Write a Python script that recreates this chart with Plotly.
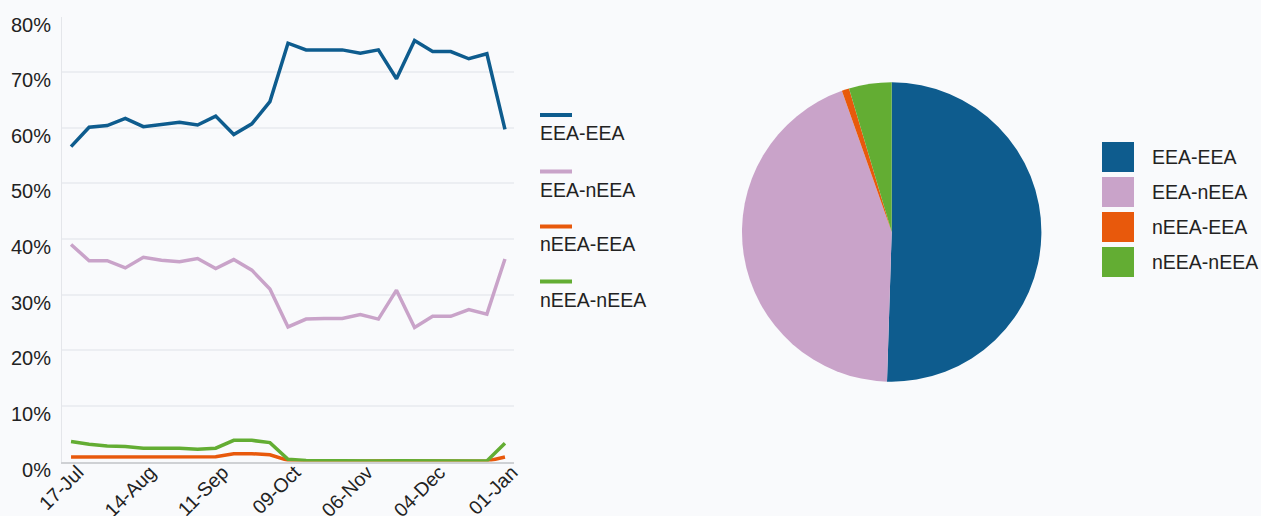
import plotly.graph_objects as go

# ---------------- data ----------------
weeks = ["2017-07-17", "2017-07-24", "2017-07-31", "2017-08-07", "2017-08-14",
         "2017-08-21", "2017-08-28", "2017-09-04", "2017-09-11", "2017-09-18",
         "2017-09-25", "2017-10-02", "2017-10-09", "2017-10-16", "2017-10-23",
         "2017-10-30", "2017-11-06", "2017-11-13", "2017-11-20", "2017-11-27",
         "2017-12-04", "2017-12-11", "2017-12-18", "2017-12-25", "2018-01-01"]

eea_eea = [56.6, 60.1, 60.4, 61.7, 60.2, 60.6, 61.0, 60.5, 62.1, 58.8,
           60.7, 64.7, 75.2, 74.0, 74.0, 74.0, 73.4, 74.0, 68.8, 75.7,
           73.7, 73.7, 72.4, 73.3, 59.7]
eea_neea = [39.0, 36.1, 36.1, 34.8, 36.7, 36.2, 35.9, 36.5, 34.7, 36.3,
            34.4, 31.0, 24.2, 25.6, 25.7, 25.7, 26.4, 25.6, 30.8, 24.1,
            26.1, 26.1, 27.3, 26.5, 36.4]
neea_eea = [0.8, 0.8, 0.85, 0.8, 0.75, 0.8, 0.8, 0.8, 0.85, 1.4,
            1.4, 1.2, 0.2, 0.1, 0.05, 0.05, 0.05, 0.1, 0.1, 0.05,
            0.05, 0.05, 0.05, 0.05, 0.8]
neea_neea = [3.6, 3.1, 2.8, 2.7, 2.4, 2.4, 2.4, 2.2, 2.4, 3.8,
             3.8, 3.4, 0.4, 0.2, 0.15, 0.1, 0.1, 0.1, 0.15, 0.1,
             0.1, 0.1, 0.1, 0.1, 3.3]

series_names = ["EEA-EEA", "EEA-nEEA", "nEEA-EEA", "nEEA-nEEA"]
series_values = [eea_eea, eea_neea, neea_eea, neea_neea]
colors = ["#0e5c8e", "#c9a3c9", "#e8590c", "#63ad33"]

pie_values = [50.5, 44.1, 0.8, 4.6]

tick_dates = ["2017-07-17", "2017-08-14", "2017-09-11", "2017-10-09",
              "2017-11-06", "2017-12-04", "2018-01-01"]
tick_labels = ["17-Jul", "14-Aug", "11-Sep", "09-Oct", "06-Nov", "04-Dec", "01-Jan"]
y_ticks = [0, 10, 20, 30, 40, 50, 60, 70, 80]
y_tick_labels = ["0%", "10%", "20%", "30%", "40%", "50%", "60%", "70%", "80%"]

# ---------------- figure ----------------
W, H = 1261, 516
BG = "#f9fafc"
TXT = "#222222"
FONT = "Liberation Sans, Arial, sans-serif"

fig = go.Figure()
for name, vals, col in zip(series_names, series_values, colors):
    fig.add_trace(go.Scatter(x=weeks, y=vals, name=name, mode="lines",
                             line=dict(color=col, width=3.5), showlegend=False,
                             hovertemplate="%{y:.1f}%<extra>" + name + "</extra>"))

fig.add_trace(go.Pie(labels=series_names, values=pie_values, sort=False,
                     direction="clockwise", rotation=0,
                     marker=dict(colors=colors, line=dict(width=0)),
                     textinfo="none", showlegend=False,
                     domain=dict(x=[741.7 / W, 1041.7 / W],
                                 y=[1 - 381.7 / H, 1 - 82.3 / H])))

fig.update_layout(
    width=W, height=H,
    margin=dict(l=0, r=0, t=0, b=0),
    paper_bgcolor=BG, plot_bgcolor=BG,
    font=dict(family=FONT, color=TXT, size=20),
    xaxis=dict(domain=[62 / W, 514 / W], type="date",
               range=["2017-07-13 12:00", "2018-01-04 12:00"],
               tickvals=tick_dates, ticktext=tick_labels, tickangle=-45,
               showgrid=False, showline=True, linecolor="#cfd1d4", linewidth=1.5,
               ticks="", zeroline=False, automargin=False,
               ticklabelshift=7, ticklabelstandoff=-10,
               tickfont=dict(size=19.5, color=TXT)),
    yaxis=dict(domain=[1 - 461.5 / H, 1 - 16.5 / H], range=[0, 80],
               tickvals=y_ticks, ticktext=y_tick_labels, showgrid=True,
               gridcolor="#eceef2", gridwidth=2, showline=True,
               linecolor="#e4e6ea", linewidth=1, ticks="", zeroline=False,
               automargin=False, ticklabelstandoff=6, ticklabelshift=8,
               tickfont=dict(size=20, color=TXT)),
)

# legend for the line chart (line sample above label)
line_y = [115, 171.5, 226.5, 281.5]
for name, col, ly in zip(series_names, colors, line_y):
    fig.add_shape(type="line", xref="paper", yref="paper",
                  x0=540 / W, x1=572 / W, y0=1 - ly / H, y1=1 - ly / H,
                  line=dict(color=col, width=4))
    fig.add_annotation(xref="paper", yref="paper", x=538 / W, y=1 - (ly + 18) / H,
                       text=name, showarrow=False, xanchor="left", yanchor="middle",
                       font=dict(size=19.5, color=TXT, family=FONT))

# legend for the pie chart (square swatch + label)
sq_y = [157, 192, 227, 262]
for name, col, sy in zip(series_names, colors, sq_y):
    fig.add_shape(type="rect", xref="paper", yref="paper",
                  x0=1102 / W, x1=1134 / W, y0=1 - (sy - 15) / H, y1=1 - (sy + 15) / H,
                  fillcolor=col, line=dict(width=0))
    fig.add_annotation(xref="paper", yref="paper", x=1150 / W, y=1 - sy / H,
                       text=name, showarrow=False, xanchor="left", yanchor="middle",
                       font=dict(size=19.5, color=TXT, family=FONT))

fig.write_html("out.html", config={"displayModeBar": False},
               post_script="document.body.style.margin='0';"
                           "document.body.style.overflow='hidden';"
                           "document.body.style.background='" + BG + "';")
